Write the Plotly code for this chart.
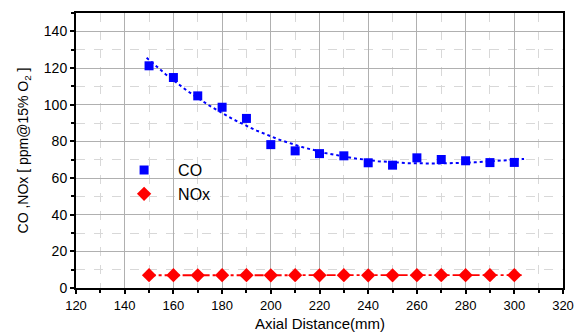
import numpy as np
import plotly.graph_objects as go

distance = [150, 160, 170, 180, 190, 200, 210, 220, 230, 240, 250, 260, 270, 280, 290, 300]
co = [121.2, 114.8, 104.8, 98.6, 92.5, 78.2, 74.8, 73.3, 72.1, 68.3, 67.0, 71.0, 70.1, 69.4, 68.4, 68.5]
nox = [7.0, 7.0, 6.9, 7.0, 7.0, 6.9, 7.0, 6.9, 7.0, 6.9, 6.9, 7.0, 7.0, 7.0, 7.0, 7.0]

x_tick_vals = [120, 140, 160, 180, 200, 220, 240, 260, 280, 300, 320]
y_tick_vals = [0, 20, 40, 60, 80, 100, 120, 140]

# trend lines fitted to the data
co_fit = np.polyfit(distance, co, 3)
nox_fit = np.polyfit(distance, nox, 1)
xf = np.linspace(149, 304, 200)

fig = go.Figure()
fig.add_trace(go.Scatter(x=xf, y=np.polyval(co_fit, xf), mode="lines",
                         line=dict(color="#0000ff", width=2, dash="dot"),
                         showlegend=False, hoverinfo="skip"))
fig.add_trace(go.Scatter(x=xf, y=np.polyval(nox_fit, xf), mode="lines",
                         line=dict(color="#ff0000", width=1.8, dash="dashdot"),
                         showlegend=False, hoverinfo="skip"))
fig.add_trace(go.Scatter(x=distance, y=co, mode="markers", name="CO",
                         marker=dict(symbol="square", size=9, color="#0000ff")))
fig.add_trace(go.Scatter(x=distance, y=nox, mode="markers", name="NOx",
                         marker=dict(symbol="diamond", size=11, color="#ff0000")))

axis_common = dict(
    showline=True, linecolor="black", linewidth=2, mirror=True,
    ticks="outside", ticklen=4, tickwidth=1.5, tickcolor="black",
    showgrid=True, gridcolor="#b0b0b0", gridwidth=1,
    zeroline=False, automargin=False,
    tickfont=dict(family="Liberation Sans, Arial", size=14, color="black"),
)

fig.update_xaxes(range=[120, 320], tickvals=x_tick_vals,
                 minor=dict(dtick=10, ticks="outside", ticklen=3, tickcolor="black",
                            showgrid=True, gridcolor="#d8d8d8", griddash="dash", gridwidth=1),
                 **axis_common)
fig.update_xaxes(tickfont=dict(size=13))
fig.update_yaxes(range=[0, 150], tickvals=y_tick_vals,
                 minor=dict(dtick=10, ticks="outside", ticklen=3, tickcolor="black",
                            showgrid=True, gridcolor="#d8d8d8", griddash="dash", gridwidth=1),
                 title=dict(text="CO ,NOx [ ppm@15% O<sub>2</sub> ]", standoff=12,
                            font=dict(family="Liberation Sans, Arial", size=14, color="black")),
                 **axis_common)

fig.add_annotation(text="Axial Distance(mm)", xref="paper", yref="paper",
                   x=0.5, y=-0.129, xanchor="center", yanchor="middle", showarrow=False,
                   font=dict(family="Liberation Sans, Arial", size=15, color="black"))

fig.update_layout(
    width=574, height=332,
    margin=dict(l=76, r=11, t=13, b=44),
    paper_bgcolor="white", plot_bgcolor="white",
    legend=dict(x=0.07, y=0.385, xanchor="left", yanchor="middle",
                bgcolor="rgba(0,0,0,0)", itemwidth=58,
                font=dict(family="Liberation Sans, Arial", size=16, color="black"),
                tracegroupgap=0),
)

fig.write_html("out.html")
